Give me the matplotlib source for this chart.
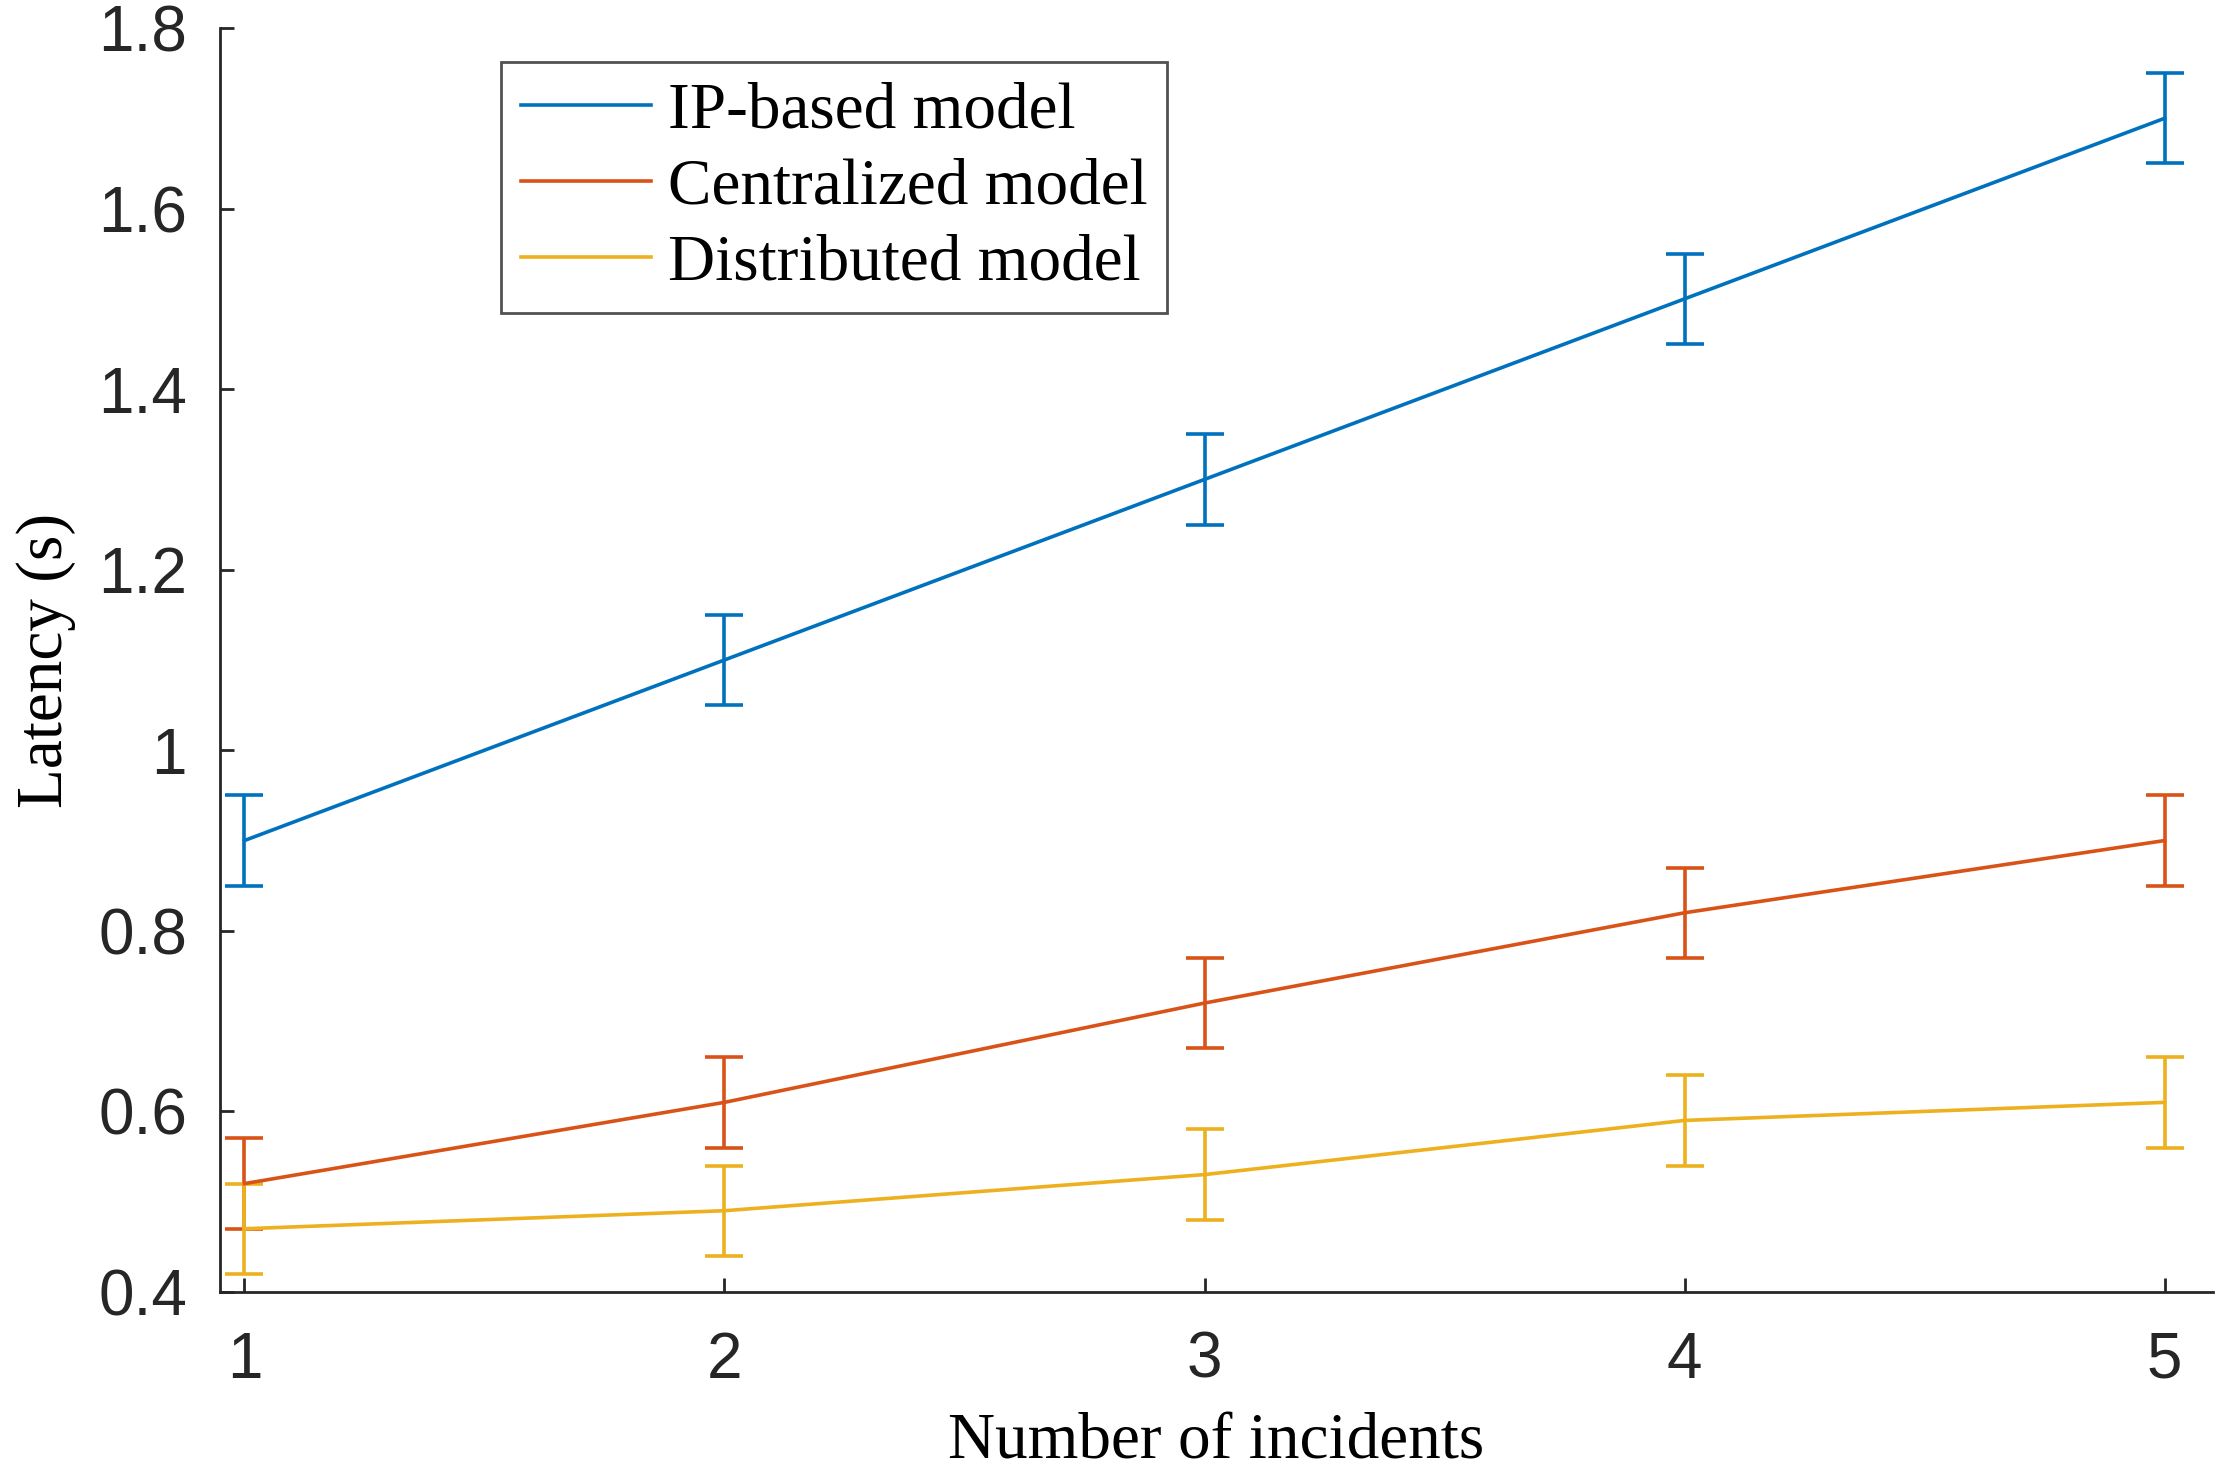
import matplotlib.pyplot as plt
import numpy as np

# number of incidents on the x axis
incidents = [1, 2, 3, 4, 5]

# mean latency for each model (seconds)
ipBased = [0.90, 1.10, 1.30, 1.50, 1.70]
centralized = [0.52, 0.61, 0.72, 0.82, 0.90]
distributed = [0.47, 0.49, 0.53, 0.59, 0.61]

# error bar half-widths
ipErr = [0.05, 0.05, 0.05, 0.05, 0.05]
centralErr = [0.05, 0.05, 0.05, 0.05, 0.05]
distErr = [0.05, 0.05, 0.05, 0.05, 0.05]

seriesNames = ["IP-based model", "Centralized model", "Distributed model"]
yTicks = [0.4, 0.6, 0.8, 1.0, 1.2, 1.4, 1.6, 1.8]
yTickLabels = ["0.4", "0.6", "0.8", "1", "1.2", "1.4", "1.6", "1.8"]

# MATLAB default colours
colours = ["#0072BD", "#D95319", "#EDB120"]
axisColour = "#262626"

fig = plt.figure(figsize=(11.13, 7.37), dpi=200)
ax = fig.add_axes([0.099, 0.1235, 0.895, 0.8575])

allValues = [ipBased, centralized, distributed]
allErrors = [ipErr, centralErr, distErr]
for vals, errs, name, col in zip(allValues, allErrors, seriesNames, colours):
	ax.errorbar(incidents, vals, yerr=errs, color=col, linewidth=1.3,
		elinewidth=1.3, capsize=7, capthick=1.3, label=name)

ax.set_xlim(0.95, 5.1)
ax.set_ylim(0.4, 1.8)
ax.set_xticks(incidents)
ax.set_yticks(yTicks)
ax.set_yticklabels(yTickLabels)

for side in ["top", "right"]:
	ax.spines[side].set_visible(False)
for side in ["left", "bottom"]:
	ax.spines[side].set_color(axisColour)
	ax.spines[side].set_linewidth(1.0)

ax.tick_params(direction="in", length=5, width=1.0, colors=axisColour,
	labelsize=23)
ax.tick_params(axis="x", pad=14)
ax.tick_params(axis="y", pad=12)
for lbl in ax.get_xticklabels() + ax.get_yticklabels():
	lbl.set_fontfamily("Liberation Sans")

ax.set_xlabel("Number of incidents", fontfamily="Liberation Serif",
	fontsize=23.5, color="black", labelpad=8)
ax.set_ylabel("Latency (s)", fontfamily="Liberation Serif",
	fontsize=23.5, color="black", labelpad=8)

# legend shows plain lines, no error bar glyph
handles = [plt.Line2D([], [], color=c, linewidth=1.3) for c in colours]
leg = ax.legend(handles, seriesNames, loc="upper left",
	bbox_to_anchor=(0.141, 0.973), frameon=True, fancybox=False,
	prop={"family": "Liberation Serif", "size": 23.5}, handlelength=2.0,
	handletextpad=0.25, borderpad=0.3, labelspacing=0.25, borderaxespad=0)
leg.get_frame().set_edgecolor(axisColour)
leg.get_frame().set_linewidth(1.0)

plt.savefig("out.png")
plt.close()
